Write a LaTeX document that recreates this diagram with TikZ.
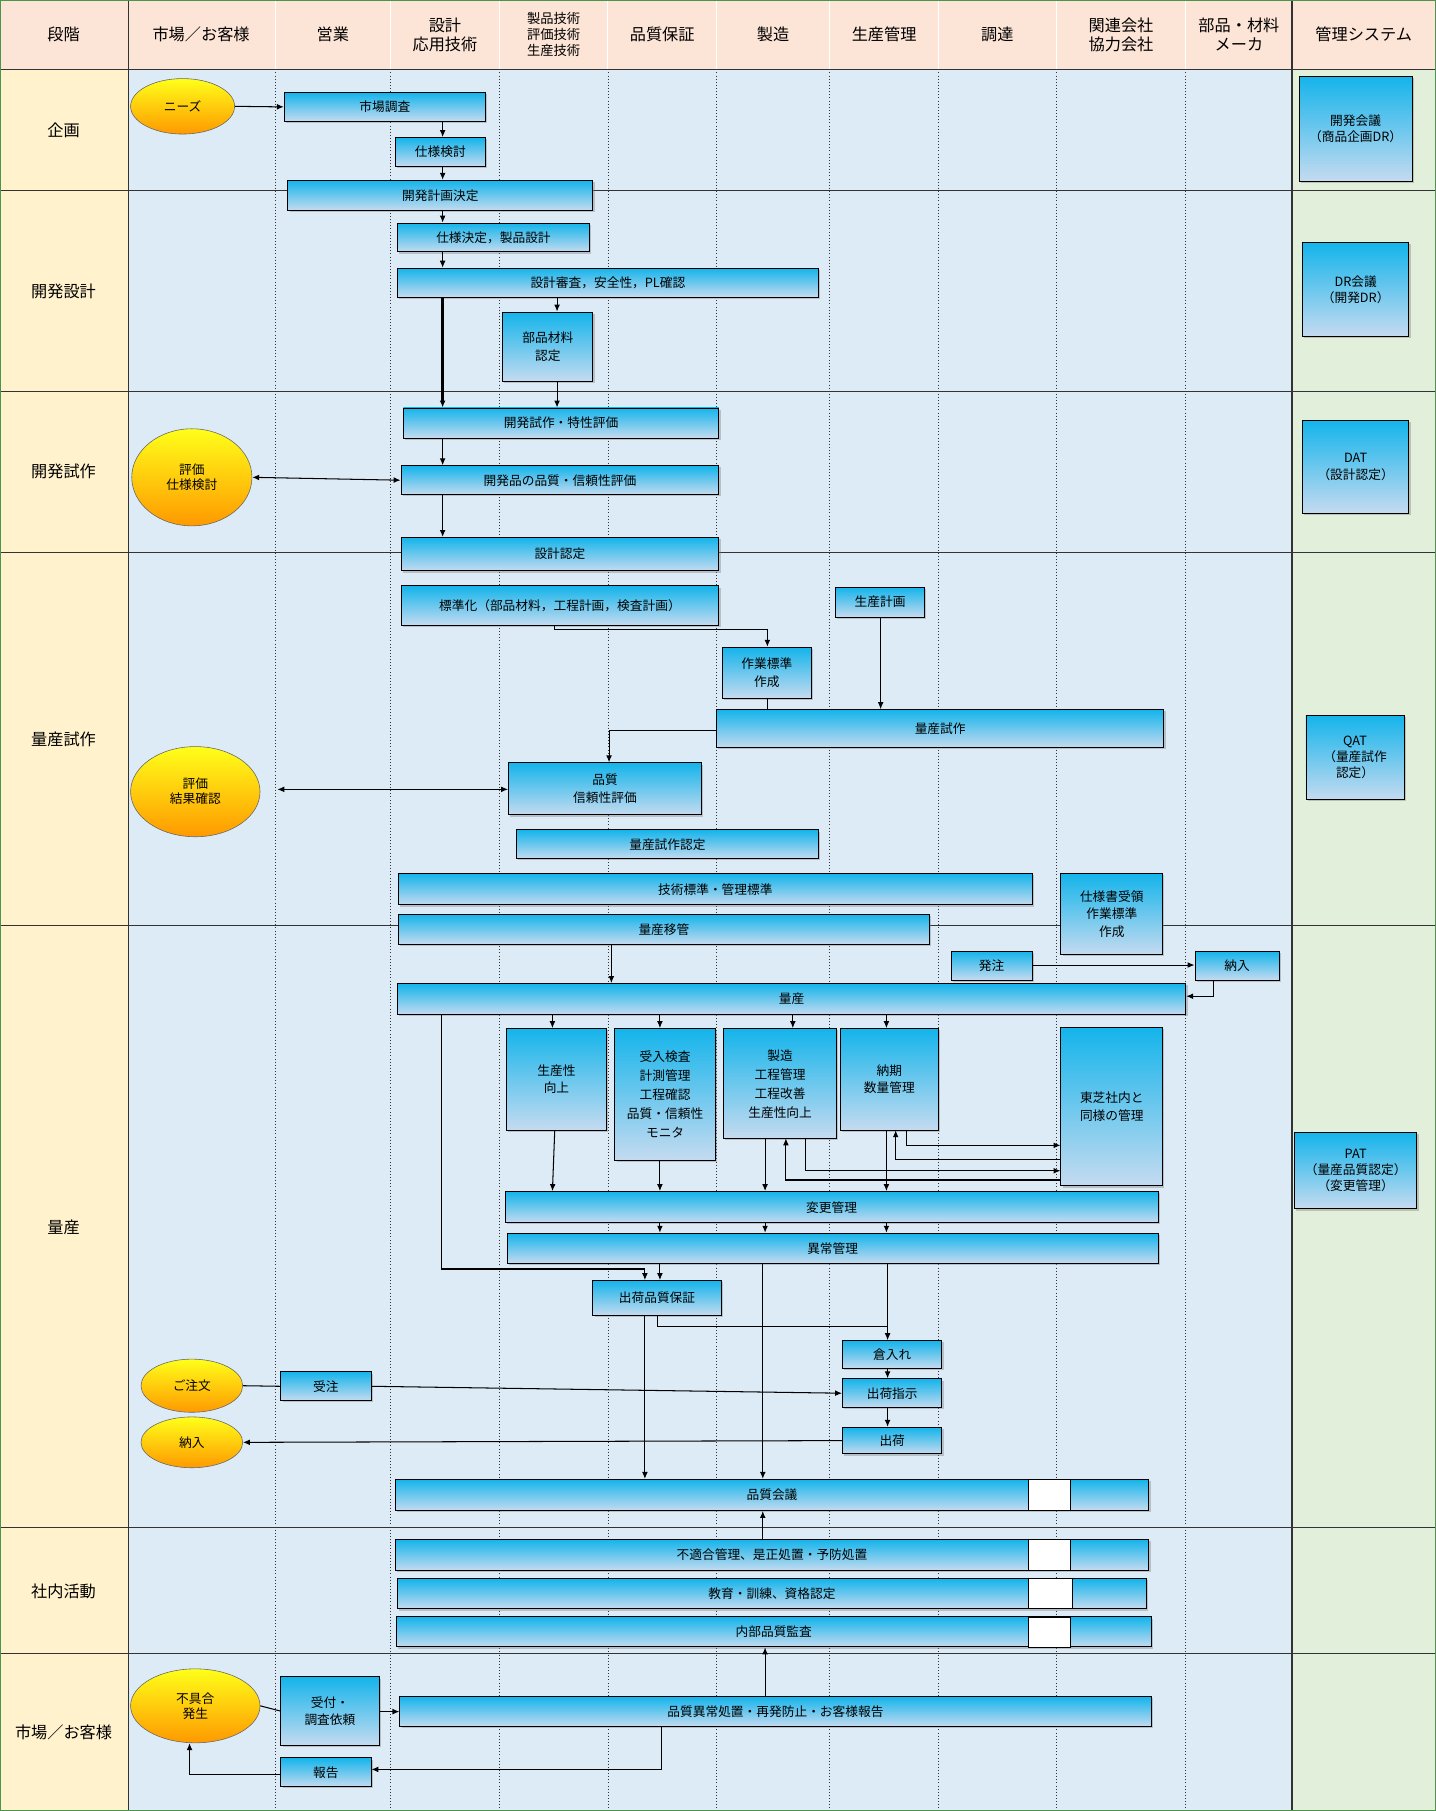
\documentclass[tikz,border=0pt]{standalone}
\usepackage{fontspec}
\setmainfont{Noto Sans CJK JP}
\usetikzlibrary{shapes.geometric,arrows.meta,shadows}
\definecolor{hdr}{HTML}{FCE4D6}
\definecolor{lcol}{HTML}{FFF2CC}
\definecolor{main}{HTML}{DDEBF7}
\definecolor{rcol}{HTML}{E2EFDA}
\definecolor{btop}{HTML}{14B4EB}
\definecolor{bbot}{HTML}{C5DBF0}
\tikzset{
 bx/.style={draw=black,line width=0.8pt,top color=btop,bottom color=bbot,drop shadow={shadow xshift=1.5pt,shadow yshift=-1.5pt,opacity=0.4},font=\fontsize{11}{13}\selectfont,align=center},
 ell/.style={ellipse,draw=black!60,line width=0.5pt,top color=yellow!90!white,bottom color=orange!80!yellow,font=\fontsize{11}{13}\selectfont,align=center,inner sep=0pt},
 ar/.style={-{Latex[length=6pt,width=5pt]},line width=0.9pt},
 ln/.style={line width=0.9pt},
 hd/.style={font=\fontsize{14}{16}\selectfont,align=center},
 hds/.style={font=\fontsize{11.5}{14}\selectfont,align=center},
 ws/.style={fill=white,draw=black,line width=0.6pt}
}
\newcommand{\B}[6][]{\node[bx,minimum width={(#4-#2)*1pt},minimum height={(#5-#3)*1pt},inner sep=0pt,#1] (#6) at ({(#2+#4)/2},{(#3+#5)/2}) {};}
\begin{document}
\begin{tikzpicture}[x=1pt,y=-1pt]
\useasboundingbox (0,0) rectangle (1242,1567);
% backgrounds
\fill[hdr] (0,0) rectangle (1242,60);
\fill[lcol] (0,60) rectangle (111,1567);
\fill[main] (111,60) rectangle (1118,1567);
\fill[rcol] (1118,60) rectangle (1242,1567);
\foreach \x in {238,338,432,526,620,718,812,914,1026}
  \draw[black!80,dotted,line width=0.7pt] (\x,60) -- (\x,1567);
\foreach \x in {111,238,338,432,526,620,718,812,914,1026}
  \draw[white,line width=0.8pt] (\x,0) -- (\x,60);
\foreach \y in {60,165,339,478,801,1322,1431}
  \draw[black!80,line width=0.9pt] (0,\y) -- (1242,\y);
\draw[black!80,line width=1.2pt] (111,0) -- (111,1567);
\draw[black!80,line width=1.6pt] (1118,0) -- (1118,1567);
\draw[green!40!black!70,line width=1.5pt] (0,0) rectangle (1242,1567);
% headers
\node[hd] (h0) at (55,30) {段階};
\node[hd] (h1) at (174,30) {市場／お客様};
\node[hd] (h2) at (288,30) {営業};
\node[hd] (h3) at (385,30) {設計\\応用技術};
\node[hds] (h4) at (479,30) {製品技術\\評価技術\\生産技術};
\node[hd] (h5) at (573,30) {品質保証};
\node[hd] (h6) at (669,30) {製造};
\node[hd] (h7) at (765,30) {生産管理};
\node[hd] (h8) at (863,30) {調達};
\node[hd] (h9) at (970,30) {関連会社\\協力会社};
\node[hd] (h10) at (1072,30) {部品・材料\\メーカ};
\node[hd] (h11) at (1180,30) {管理システム};
% phases
\node[hd] (p1) at (55,113) {企画};
\node[hd] (p2) at (55,252) {開発設計};
\node[hd] (p3) at (55,408) {開発試作};
\node[hd] (p4) at (55,640) {量産試作};
\node[hd] (p5) at (55,1062) {量産};
\node[hd] (p6) at (55,1377) {社内活動};
\node[hd] (p7) at (55,1499) {市場／お客様};
% right column
\B{1124}{66}{1222}{157}{m1}\node[font=\fontsize{11}{14}\selectfont,align=center] at (m1) {開発会議\\（商品企画DR）};
\B{1127}{210}{1219}{291}{m2}\node[font=\fontsize{11}{14}\selectfont,align=center] at (m2) {DR会議\\（開発DR）};
\B{1127}{364}{1219}{444}{m3}\node[font=\fontsize{11}{14}\selectfont,align=center] at (m3) {DAT\\（設計認定）};
\B{1130}{619}{1215}{692}{m4}\node[font=\fontsize{11}{14}\selectfont,align=center] at (m4) {QAT\\（量産試作\\認定）};
\B{1120}{980}{1226}{1046}{m5}\node[font=\fontsize{11}{14}\selectfont,align=center] at (m5) {PAT\\（量産品質認定）\\（変更管理）};
% ellipses
\node[ell,minimum width=90pt,minimum height=48pt] (needs) at (158,92) {ニーズ};
\node[ell,minimum width=104pt,minimum height=84pt] (ev1) at (166,413) {評価\\仕様検討};
\node[ell,minimum width=112pt,minimum height=78pt] (ev2) at (169,685) {評価\\結果確認};
\node[ell,minimum width=88pt,minimum height=46pt] (order) at (166,1199) {ご注文};
\node[ell,minimum width=88pt,minimum height=44pt] (deliv) at (166,1248) {納入};
\node[ell,minimum width=112pt,minimum height=64pt] (fail) at (169,1476) {不具合\\発生};
% boxes
\newcommand{\T}[2]{\node[font=\fontsize{11}{15}\selectfont,align=center] at (#1) {#2};}
\B{246}{80}{420}{105}{a1}\T{a1}{市場調査}
\B{342}{119}{420}{144}{a2}\T{a2}{仕様検討}
\B{249}{156}{513}{182}{a3}\T{a3}{開発計画決定}
\B{344}{193}{510}{218}{a4}\T{a4}{仕様決定，製品設計}
\B{344}{232}{708}{257}{a5}\T{a5}{設計審査，安全性，PL確認}
\B{435}{270}{513}{330}{a6}\T{a6}{部品材料\\認定}
\B{349}{353}{622}{379}{b1}\T{b1}{開発試作・特性評価}
\B{347}{403}{622}{428}{b2}\T{b2}{開発品の品質・信頼性評価}
\B{347}{465}{622}{494}{b3}\T{b3}{設計認定}
\B{347}{507}{622}{541}{c1}\T{c1}{標準化（部品材料，工程計画，検査計画）}
\B{723}{508}{800}{534}{c2}\T{c2}{生産計画}
\B{625}{560}{702}{604}{c3}\T{c3}{作業標準\\作成}
\B{620}{614}{1007}{647}{c4}\T{c4}{量産試作}
\B{440}{660}{607}{705}{c5}\T{c5}{品質\\信頼性評価}
\B{447}{718}{708}{743}{c6}\T{c6}{量産試作認定}
\B{345}{756}{893}{783}{c7}\T{c7}{技術標準・管理標準}
\B{918}{756}{1006}{826}{c8}\T{c8}{仕様書受領\\作業標準\\作成}
\B{345}{791}{804}{817}{c9}\T{c9}{量産移管}
\B{823}{823}{893}{848}{d1}\T{d1}{発注}
\B{1034}{823}{1107}{848}{d2}\T{d2}{納入}
\B{344}{851}{1026}{878}{d3}\T{d3}{量産}
\B{438}{890}{525}{978}{e1}\node[font=\fontsize{11}{15}\selectfont,align=center] at (481.5,934) {生産性\\向上};
\B{532}{890}{619}{1004}{e2}\node[font=\fontsize{11}{16.5}\selectfont,align=center] at (575.5,947) {受入検査\\計測管理\\工程確認\\品質・信頼性\\モニタ};
\B{626}{890}{724}{985}{e3}\node[font=\fontsize{11}{16.5}\selectfont,align=center] at (675,938) {製造\\工程管理\\工程改善\\生産性向上};
\B{727}{890}{812}{978}{e4}\T{e4}{納期\\数量管理};
\B{918}{889}{1006}{1026}{e5}\T{e5}{東芝社内と\\同様の管理}
\B{437}{1031}{1002}{1058}{f1}\T{f1}{変更管理}
\B{439}{1067}{1002}{1093}{f2}\T{f2}{異常管理}
\B{513}{1108}{624}{1138}{f3}\T{f3}{出荷品質保証}
\B{729}{1160}{815}{1184}{g1}\T{g1}{倉入れ}
\B{243}{1187}{321}{1212}{g0}\T{g0}{受注}
\B{729}{1193}{815}{1218}{g2}\T{g2}{出荷指示}
\B{729}{1235}{815}{1258}{g3}\T{g3}{出荷}
\B{342}{1280}{994}{1307}{q1}\T{q1}{品質会議}\draw[ws] (890,1280) rectangle (926,1307);
\B{342}{1332}{994}{1359}{q2}\T{q2}{不適合管理、是正処置・予防処置}\draw[ws] (890,1332) rectangle (926,1359);
\B{344}{1366}{992}{1392}{q3}\T{q3}{教育・訓練、資格認定}\draw[ws] (890,1366) rectangle (928,1392);
\B{343}{1399}{996}{1425}{q4}\T{q4}{内部品質監査}\draw[ws] (890,1399) rectangle (926,1425);
\B{243}{1451}{328}{1510}{r1}\T{r1}{受付・\\調査依頼}
\B{346}{1468}{996}{1494}{r2}\T{r2}{品質異常処置・再発防止・お客様報告}
\B{243}{1521}{321}{1546}{r3}\T{r3}{報告}
% connectors
\draw[ar] (needs.east) -- (a1.west);
\draw[ar] (a1.south-|383,0) -- (a2.north-|383,0);
\draw[ar] (a2.south-|383,0) -- (a3.north-|383,0);
\draw[ar] (a3.south-|383,0) -- (a4.north-|383,0);
\draw[ar] (a4.south-|383,0) -- (a5.north-|383,0);
\draw[ar,line width=2pt] (a5.south-|383,0) -- (b1.north-|383,0);
\draw[ar] (a5.south-|482,0) -- (a6.north-|482,0);
\draw[ar] (a6.south-|482,0) -- (b1.north-|482,0);
\draw[ar] (b1.south-|383,0) -- (b2.north-|383,0);
\draw[{Latex[length=6pt,width=5pt]}-{Latex[length=6pt,width=5pt]},line width=0.9pt] (ev1.east) -- (b2.west);
\draw[ar] (b2.south-|383,0) -- (b3.north-|383,0);
\draw[ar] (c1.south-|480,0) -- (480,545) -- (664,545) -- (c3.north-|664,0);
\draw[ar] (c2.south-|762,0) -- (c4.north-|762,0);
\draw[ln] (c3.south-|664,0) -- (c4.north-|664,0);
\draw[ar] (c4.west|-0,632) -- (527,632) -- (c5.north-|527,0);
\draw[{Latex[length=6pt,width=5pt]}-{Latex[length=6pt,width=5pt]},line width=0.9pt] (240,683) -- (c5.west|-0,683);
\draw[ar] (c9.south-|529,0) -- (d3.north-|529,0);
\draw[ar] (d1.east|-0,835) -- (d2.west|-0,835);
\draw[ar] (d2.south-|1050,0) -- (1050,862) -- (d3.east|-0,862);
\draw[ar] (d3.south-|478,0) -- (e1.north-|478,0);
\draw[ar] (d3.south-|571,0) -- (e2.north-|571,0);
\draw[ar] (d3.south-|686,0) -- (e3.north-|686,0);
\draw[ar] (d3.south-|767,0) -- (e4.north-|767,0);
\draw[ar] (480,978) -- (f1.north-|478,0);
\draw[ar] (e2.south-|571,0) -- (f1.north-|571,0);
\draw[ar] (e3.south-|662,0) -- (f1.north-|662,0);
\draw[ar] (e4.south-|767,0) -- (f1.north-|767,0);
\draw[ar] (f1.south-|571,0) -- (f2.north-|571,0);
\draw[ar] (f1.south-|662,0) -- (f2.north-|662,0);
\draw[ar] (f1.south-|767,0) -- (f2.north-|767,0);
\draw[ar] (784,978) -- (784,991) -- (e5.west|-0,991);
\draw[ar] (e5.west|-0,1003) -- (775,1003) -- (775,978);
\draw[ar] (697,985) -- (697,1013) -- (e5.west|-0,1013);
\draw[ar] (e5.west|-0,1021) -- (680,1021) -- (680,985);
\draw[ar] (d3.south-|382,0) -- (382,1098) -- (558,1098) -- (f3.north-|558,0);
\draw[ar] (f2.south-|571,0) -- (f3.north-|571,0);
\draw[ar] (f2.south-|768,0) -- (g1.north-|768,0);
\draw[ln] (f3.south-|569,0) -- (569,1148) -- (768,1148);
\draw[ar] (g1.south-|768,0) -- (g2.north-|768,0);
\draw[ar] (g2.south-|768,0) -- (g3.north-|768,0);
\draw[ln] (order.east) -- (g0.west);
\draw[ar] (g0.east) -- (g2.west);
\draw[ar] (g3.west) -- (deliv.east);
\draw[ar] (f3.south-|558,0) -- (q1.north-|558,0);
\draw[ar] (f2.south-|660,0) -- (q1.north-|660,0);
\draw[ar] (q2.north-|660,0) -- (q1.south-|660,0);
\draw[ar] (r2.north-|662,0) -- (q4.south-|662,0);
\draw[ln] (fail.east) -- (r1.west);
\draw[ar] (r1.east|-0,1481) -- (r2.west|-0,1481);
\draw[ar] (r2.south-|572,0) -- (572,1531) -- (r3.east|-0,1531);
\draw[ar] (r3.west|-0,1535) -- (164,1535) -- (fail.south-|164,0);
\end{tikzpicture}
\end{document}
